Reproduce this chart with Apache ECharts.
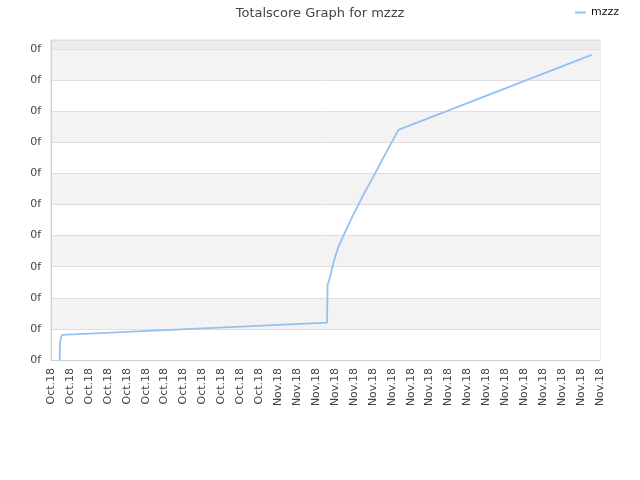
<!DOCTYPE html>
<html>
<head>
<meta charset="utf-8">
<script src="https://cdn.jsdelivr.net/npm/echarts@6/dist/echarts.min.js"></script>
<style>html,body{margin:0;padding:0;background:#fff}#c{width:640px;height:480px}</style>
</head>
<body>
<div id="c"></div>
<script>
var seriesName = 'mzzz';
var xLabels = ['Oct.18','Oct.18','Oct.18','Oct.18','Oct.18','Oct.18','Oct.18','Oct.18','Oct.18','Oct.18','Oct.18','Oct.18',
  'Nov.18','Nov.18','Nov.18','Nov.18','Nov.18','Nov.18','Nov.18','Nov.18','Nov.18','Nov.18','Nov.18','Nov.18','Nov.18','Nov.18','Nov.18','Nov.18','Nov.18','Nov.18'];
var yLabels = ['0f','0f','0f','0f','0f','0f','0f','0f','0f','0f','0f'];
// x in tick-index units, y in score units
var xValues = [0.46, 0.47, 0.53, 0.60, 14.58, 14.61, 14.70, 14.91, 15.18, 15.30, 15.88, 16.50, 17.12, 17.73, 18.35, 28.56];
var yValues = [0.00, 0.48, 0.74, 0.81, 1.20, 2.41, 2.57, 3.11, 3.64, 3.80, 4.56, 5.31, 6.00, 6.70, 7.40, 9.81];

var data = xValues.map(function (x, i) { return [x, yValues[i]]; });
var font = 'DejaVu Sans';
var chart = echarts.init(document.getElementById('c'), null, {renderer: 'canvas'});
chart.setOption({
  animation: false,
  backgroundColor: '#fff',
  title: {
    text: 'Totalscore Graph for mzzz',
    left: 'center', top: 2,
    textStyle: {fontFamily: font, fontSize: 13, fontWeight: 'normal', color: '#444'}
  },
  legend: {
    right: 16, top: 2,
    icon: 'rect', itemWidth: 11, itemHeight: 2, itemGap: 6,
    textStyle: {fontFamily: font, fontSize: 11, color: '#111'},
    data: [seriesName]
  },
  grid: {left: 51, right: 40, top: 40, bottom: 120, show: true, borderColor: '#dcdcdc', borderWidth: 1, backgroundColor: 'transparent'},
  xAxis: {
    type: 'value', min: 0, max: xLabels.length - 1, interval: 1,
    axisLine: {show: true, lineStyle: {color: '#d0d0d0'}},
    axisTick: {show: false},
    splitLine: {show: false},
    axisLabel: {
      rotate: 90, fontFamily: font, fontSize: 11, color: '#444', margin: 8,
      formatter: function (v) { return xLabels[Math.round(v)]; }
    }
  },
  yAxis: {
    type: 'value', min: 0, max: 10.29, interval: 1,
    axisLine: {show: true, lineStyle: {color: '#d0d0d0'}},
    axisTick: {show: false},
    splitLine: {show: true, lineStyle: {color: '#dedede'}},
    splitArea: {show: true, areaStyle: {color: ['#ffffff','#f3f3f3','#ffffff','#f3f3f3','#ffffff','#f3f3f3','#ffffff','#f3f3f3','#ffffff','#f3f3f3','#ececec']}},
    axisLabel: {
      showMaxLabel: false, fontFamily: font, fontSize: 11, color: '#444', margin: 10,
      formatter: function (v) { var i = Math.round(v); return yLabels[i] !== undefined && Math.abs(v - i) < 1e-6 ? yLabels[i] : ''; }
    }
  },
  series: [{
    name: seriesName, type: 'line', data: data,
    showSymbol: false, symbol: 'none',
    lineStyle: {color: '#92c2f2', width: 1.8},
    itemStyle: {color: '#92c2f2'}
  }]
});
</script>
</body>
</html>
